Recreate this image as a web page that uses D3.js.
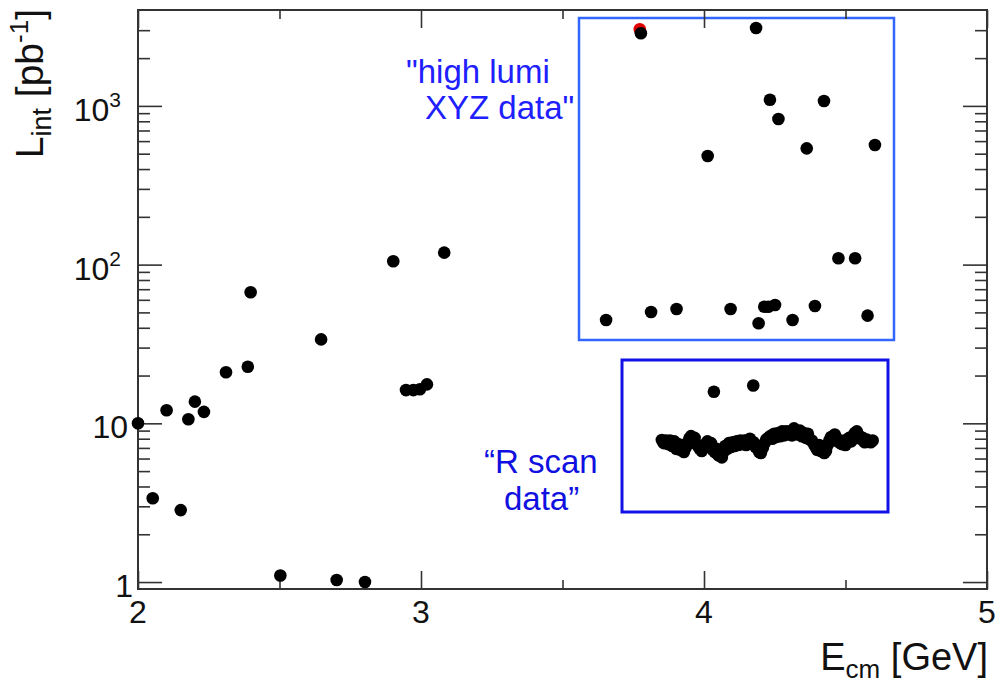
<!DOCTYPE html>
<html>
<head>
<meta charset="utf-8">
<script src="https://cdn.jsdelivr.net/npm/d3@7"></script>
<style>
  body { margin: 0; background: #fff; }
  svg { display: block; }
  text { font-family: "Liberation Sans", Arial, Helvetica, sans-serif; }
</style>
</head>
<body>
<svg id="chart" width="999" height="684"></svg>
<script>
// Integrated luminosity per energy point [pb^-1] vs. centre-of-mass energy [GeV]

// early low-energy scan points
const lowE = [2.000, 2.052, 2.101, 2.151, 2.178, 2.201, 2.233, 2.311, 2.388, 2.398,
              2.503, 2.647, 2.702, 2.802, 2.902, 2.947, 2.973, 2.996, 3.021, 3.082];
const lowL = [10.0, 3.37, 12.1, 2.84, 10.6, 13.7, 11.8, 21.0, 22.7, 66.9,
              1.10, 33.8, 1.03, 1.00, 105, 16.2, 16.2, 16.4, 17.6, 119];

// high-luminosity XYZ samples
const xyzE = [3.654, 3.777, 3.813, 3.903, 4.013, 4.094, 4.184, 4.193, 4.213, 4.227, 4.233,
              4.251, 4.263, 4.313, 4.363, 4.392, 4.424, 4.475, 4.534, 4.578, 4.604];
const xyzL = [44.8, 2866, 50.3, 52.5, 483, 52.5, 3097, 42.7, 54.3, 54.3, 1094,
              55.6, 827, 44.8, 540, 54.8, 1074, 109.6, 109.6, 47.7, 567];

// psi(3770) sample drawn in red underneath
const redE = [3.773];
const redL = [3040];

// two medium-size samples inside the R scan region
const midE = [4.035, 4.174];
const midL = [15.8, 17.3];

// R scan points
const rscanE = [3.851, 3.858, 3.866, 3.873, 3.880, 3.888, 3.895, 3.902, 3.909, 3.916,
                3.922, 3.929, 3.935, 3.941, 3.948, 3.954, 3.960, 3.967, 3.973, 3.979,
                3.985, 3.992, 3.998, 4.005, 4.012, 4.018, 4.025, 4.031, 4.038, 4.044,
                4.051, 4.057, 4.063, 4.069, 4.075, 4.082, 4.088, 4.095, 4.101, 4.108,
                4.115, 4.121, 4.128, 4.135, 4.142, 4.149, 4.155, 4.162, 4.168, 4.175,
                4.182, 4.188, 4.195, 4.201, 4.208, 4.214, 4.220, 4.227, 4.234, 4.241,
                4.248, 4.255, 4.262, 4.269, 4.276, 4.283, 4.290, 4.297, 4.304, 4.311,
                4.318, 4.325, 4.332, 4.339, 4.346, 4.353, 4.360, 4.367, 4.374, 4.381,
                4.388, 4.394, 4.400, 4.407, 4.413, 4.419, 4.425, 4.431, 4.437, 4.443,
                4.449, 4.456, 4.462, 4.468, 4.475, 4.481, 4.488, 4.494, 4.500, 4.507,
                4.513, 4.520, 4.527, 4.533, 4.540, 4.547, 4.554, 4.561, 4.568, 4.575,
                4.582, 4.589, 4.596];
const rscanL = [7.85, 7.5, 7.8, 7.4, 7.8, 7.2, 7.7, 6.9, 7.4, 6.8,
                7.3, 6.6, 7.0, 7.4, 8.0, 8.3, 7.6, 8.1, 7.4, 7.2,
                6.9, 6.7, 7.2, 7.4, 7.7, 7.1, 7.5, 6.8, 6.6, 6.9,
                6.3, 6.7, 6.1, 6.6, 7.2, 6.9, 7.5, 7.1, 7.6, 7.2,
                7.7, 7.3, 7.8, 7.4, 7.8, 7.3, 7.7, 8.0, 7.5, 7.6,
                7.1, 7.0, 6.6, 6.5, 7.0, 7.5, 7.9, 8.1, 8.3, 8.0,
                8.6, 8.2, 8.7, 8.3, 8.9, 8.4, 8.9, 8.5, 8.9, 8.4,
                9.3, 8.8, 8.5, 9.0, 8.3, 8.7, 8.1, 8.6, 7.9, 7.8,
                7.4, 7.1, 6.8, 7.3, 6.7, 7.1, 6.5, 6.7, 7.3, 7.8,
                8.2, 7.8, 8.5, 8.1, 7.7, 7.5, 7.4, 7.8, 7.3, 7.8,
                8.1, 7.7, 8.3, 8.7, 8.9, 8.4, 8.0, 8.1, 7.6, 7.9,
                7.7, 7.6, 7.8];

// axis ticks
const xMajor = [2, 3, 4, 5];
const xMinor = [2.5, 3.5, 4.5];
const yMajor = [1, 10, 100, 1000];
const yMajorLabels = [["1", ""], ["10", ""], ["10", "2"], ["10", "3"]];
const yMinor = [2, 3, 4, 5, 6, 7, 8, 9, 20, 30, 40, 50, 60, 70, 80, 90,
                200, 300, 400, 500, 600, 700, 800, 900, 2000, 3000];

// text
const xTitle = { main: "E", sub: "cm", rest: " [GeV]" };
const yTitle = { main: "L", sub: "int", rest: " [pb", sup: "-1", end: "]" };
const noteXYZ = ["\"high lumi", "XYZ data\""];
const noteR = ["\u201CR scan", "data\u201D"];

const svg = d3.select("#chart");
const frame = { left: 138, right: 987, top: 10, bottom: 589 };

const x = d3.scaleLinear().domain([2, 5]).range([frame.left, frame.right]);
const y = d3.scaleLog().domain([0.904, 4020]).range([frame.bottom, frame.top]);

const axisColor = "#333";
const tickFont = 32;

// region boxes
svg.append("rect")
  .attr("x", 579).attr("y", 18).attr("width", 315).attr("height", 322)
  .attr("fill", "none").attr("stroke", "#3366ff").attr("stroke-width", 2.5);
svg.append("rect")
  .attr("x", 622).attr("y", 360).attr("width", 266).attr("height", 152)
  .attr("fill", "none").attr("stroke", "#1212e6").attr("stroke-width", 3);

// ticks on all four sides, pointing inward
function tickAxis(axisFn, scale, values, size, transform) {
  const g = svg.append("g")
    .attr("transform", transform)
    .call(axisFn(scale).tickValues(values).tickSize(-size).tickFormat(""));
  g.select(".domain").remove();
  g.selectAll(".tick line").attr("stroke", axisColor).attr("stroke-width", 1.6);
  return g;
}
tickAxis(d3.axisBottom, x, xMajor, 18, `translate(0,${frame.bottom})`);
tickAxis(d3.axisBottom, x, xMinor, 9, `translate(0,${frame.bottom})`);
tickAxis(d3.axisTop, x, xMajor, 18, `translate(0,${frame.top})`);
tickAxis(d3.axisTop, x, xMinor, 9, `translate(0,${frame.top})`);
tickAxis(d3.axisLeft, y, yMajor, 24, `translate(${frame.left},0)`);
tickAxis(d3.axisLeft, y, yMinor, 12, `translate(${frame.left},0)`);
tickAxis(d3.axisRight, y, yMajor, 24, `translate(${frame.right},0)`);
tickAxis(d3.axisRight, y, yMinor, 12, `translate(${frame.right},0)`);

// frame
svg.append("rect")
  .attr("x", frame.left).attr("y", frame.top)
  .attr("width", frame.right - frame.left).attr("height", frame.bottom - frame.top)
  .attr("fill", "none").attr("stroke", axisColor).attr("stroke-width", 2);

// x tick labels
svg.append("g").selectAll("text").data(xMajor).join("text")
  .attr("x", d => x(d)).attr("y", frame.bottom + 34)
  .attr("text-anchor", "middle").attr("font-size", tickFont).attr("fill", "#111")
  .text(d => d);

// y tick labels (powers of ten with superscripts)
const yLab = svg.append("g").selectAll("text").data(yMajor).join("text")
  .attr("x", (d, i) => i === 0 ? frame.left - 5 : i === 1 ? frame.left - 10 : frame.left - 17)
  .attr("y", d => y(d) + 15)
  .attr("text-anchor", "end").attr("font-size", tickFont).attr("fill", "#111");
yLab.each(function (d, i) {
  const t = d3.select(this);
  const [base, exp] = yMajorLabels[i];
  t.append("tspan").text(base);
  if (exp) t.append("tspan").attr("dy", -14).attr("font-size", 21).text(exp);
});

// axis titles
const xt = svg.append("text")
  .attr("x", 988).attr("y", 670).attr("text-anchor", "end")
  .attr("font-size", 38).attr("fill", "#111");
xt.append("tspan").text(xTitle.main);
xt.append("tspan").attr("dy", 8).attr("font-size", 26).text(xTitle.sub);
xt.append("tspan").attr("dy", -8).text(xTitle.rest);

const yt = svg.append("text")
  .attr("transform", "translate(43,9) rotate(-90)").attr("text-anchor", "end")
  .attr("font-size", 39).attr("fill", "#111");
yt.append("tspan").text(yTitle.main);
yt.append("tspan").attr("dy", 8).attr("font-size", 27).text(yTitle.sub);
yt.append("tspan").attr("dy", -8).text(yTitle.rest);
yt.append("tspan").attr("dy", -15).attr("font-size", 26).text(yTitle.sup);
yt.append("tspan").attr("dy", 15).text(yTitle.end);

// annotations
const noteA = "#2020ff", noteB = "#1010e0";
function note(str, px, py, color) {
  svg.append("text").attr("x", px).attr("y", py)
    .attr("font-size", 33).attr("fill", color).text(str);
}
note(noteXYZ[0], 406, 83, noteA);
note(noteXYZ[1], 425, 119, noteA);
note(noteR[0], 484, 473, noteB);
note(noteR[1], 504, 510, noteB);

// markers
const R = 6.3;
function dots(E, L, color) {
  svg.append("g").selectAll("circle").data(E).join("circle")
    .attr("cx", d => x(d)).attr("cy", (d, i) => y(L[i]))
    .attr("r", R).attr("fill", color);
}
dots(redE, redL, "#e00000");
dots(lowE, lowL, "#000");
dots(xyzE, xyzL, "#000");
dots(midE, midL, "#000");
dots(rscanE, rscanL, "#000");
</script>
</body>
</html>
